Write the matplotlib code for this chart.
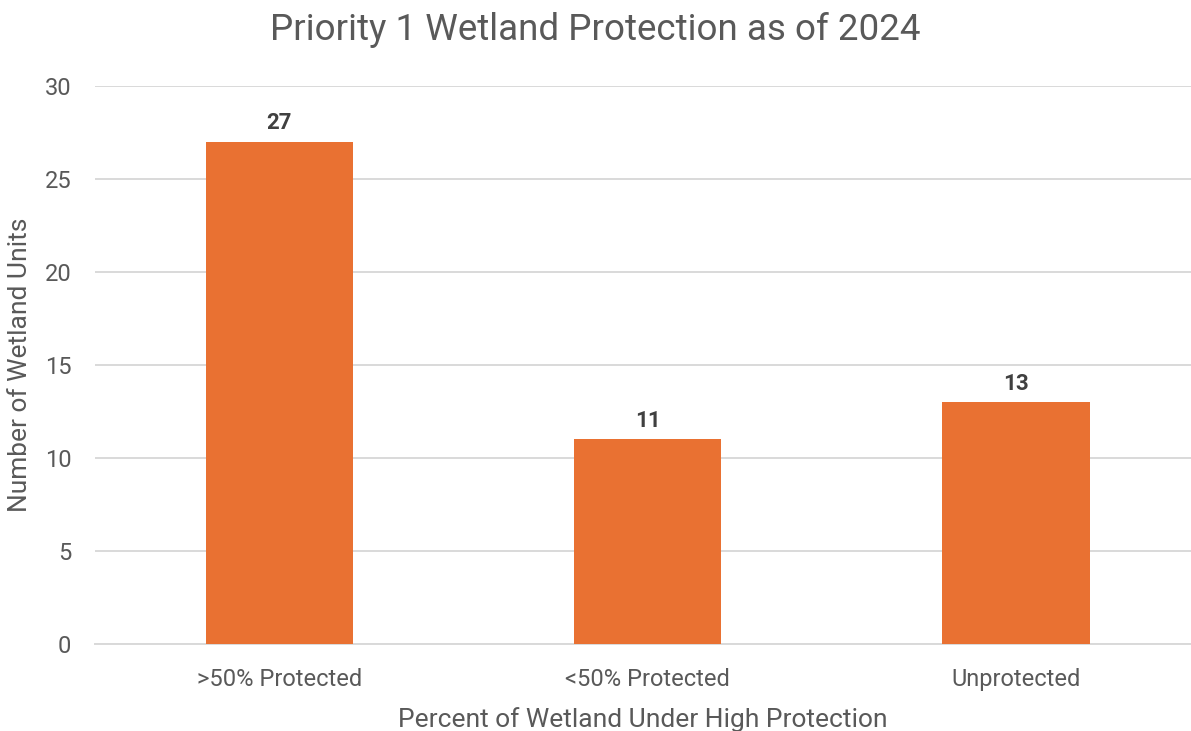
import matplotlib.pyplot as plt

# chart data
categories = ['>50% Protected', '<50% Protected', 'Unprotected']
counts = [27, 11, 13]
y_ticks = [0, 5, 10, 15, 20, 25, 30]

plt.rcParams['font.family'] = ['Roboto', 'DejaVu Sans']

fig = plt.figure(figsize=(11.91, 7.31), dpi=100)
ax = fig.add_axes([95 / 1191, 1 - 644 / 731, 1 - 95 / 1191, (644 - 86) / 731])

x = list(range(len(categories)))
bars = ax.bar(x, counts, width=0.4, color='#E97132', zorder=3)

for b, v in zip(bars, counts):
    ax.annotate(str(v), (b.get_x() + b.get_width() / 2, v), xytext=(0, 9),
                textcoords='offset points', ha='center', va='baseline',
                fontsize=16, fontweight='bold', color='#404040')

ax.set_xlim(-0.5, 2.475)
ax.set_ylim(0, 30)
ax.set_yticks(y_ticks)
ax.set_xticks(x)
ax.set_xticklabels(categories)
ax.grid(axis='y', color='#D9D9D9', linewidth=1.4, zorder=0)
for s in ['top', 'right', 'left']:
    ax.spines[s].set_visible(False)
ax.spines['bottom'].set_color('#D9D9D9')
ax.spines['bottom'].set_linewidth(1.4)
ax.tick_params(axis='both', length=0, labelsize=17, labelcolor='#595959')
ax.tick_params(axis='x', pad=17)
ax.tick_params(axis='y', pad=17)

ax.set_xlabel('Percent of Wetland Under High Protection', fontsize=19, color='#595959', labelpad=12)
ax.set_ylabel('Number of Wetland Units', fontsize=19, color='#595959', labelpad=9)
fig.text(0.5, 1 - 30 / 731, 'Priority 1 Wetland Protection as of 2024', ha='center', va='center',
         fontsize=26.5, color='#595959')

fig.savefig('out.png', dpi=100)
